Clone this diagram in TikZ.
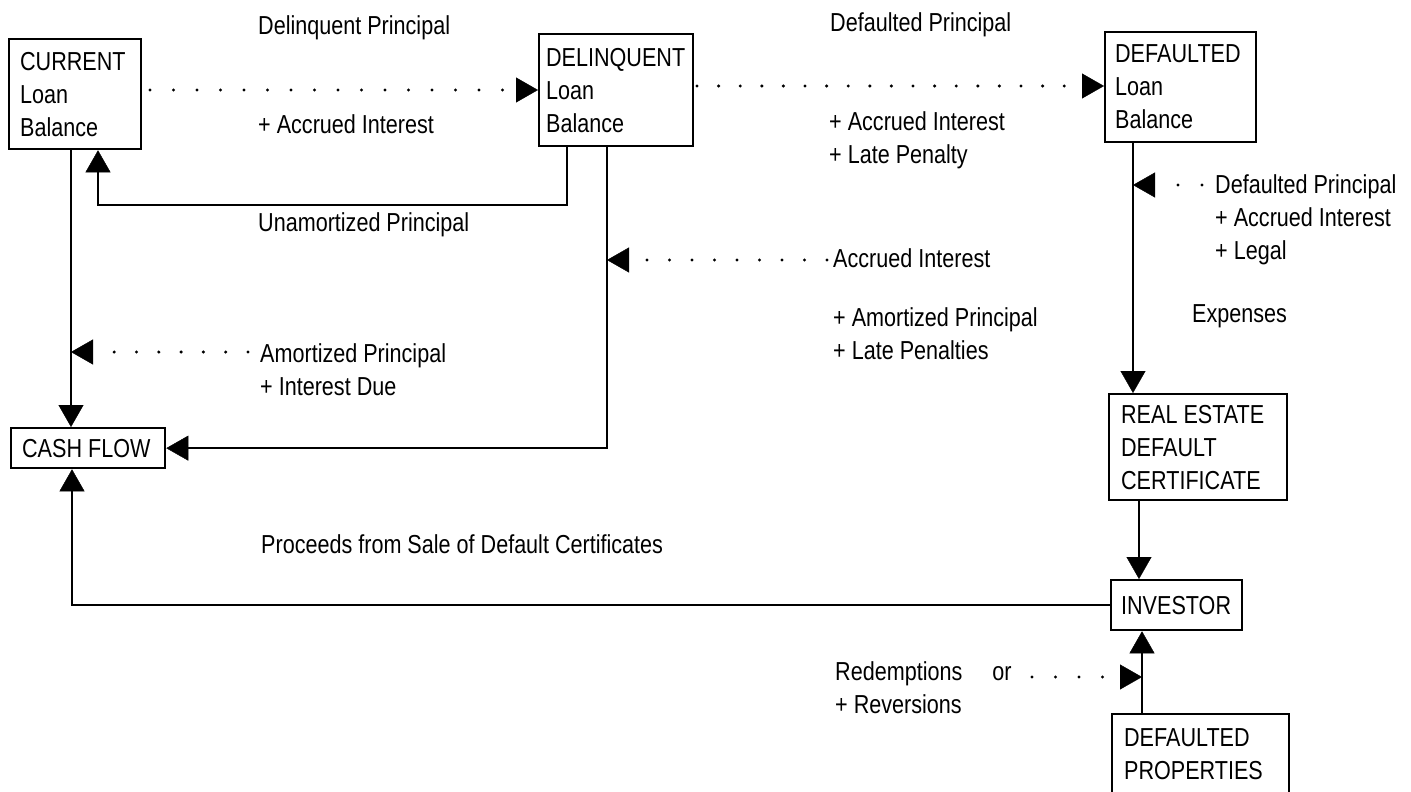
\documentclass[tikz,border=0pt]{standalone}
\usepackage{fontspec}
\setmainfont{Liberation Sans}[FakeStretch=0.83]
\usetikzlibrary{arrows.meta}
\newcommand\mylines[1]{\begin{tabular}[t]{@{}l@{}}#1\end{tabular}}
\begin{document}
\begin{tikzpicture}[x=1pt,y=-1pt,
  txt/.style={font=\fontsize{26}{33}\selectfont},
  box/.style={txt, draw, line width=2.3pt, rectangle, anchor=north west, align=flush left, inner ysep=0pt},
  lbl/.style={txt, anchor=base west, inner sep=0pt},
  conn/.style={line width=2.3pt},
  tipA/.style={-{Triangle[length=22pt,width=25pt,line width=0.4pt]}},
  dotline/.style={line width=3.4pt, line cap=round, dash pattern=on 0pt off #1}]
\useasboundingbox (0,0) rectangle (1411,792);
% boxes
\node[box, text width=110pt, inner xsep=11pt, minimum height=110pt] (cur) at (8,38) {CURRENT\\Loan\\Balance};
\node[box, text width=140pt, inner xsep=7pt, minimum height=112pt] (del) at (538,33) {DELINQUENT\\Loan\\Balance};
\node[box, text width=131pt, inner xsep=10pt, minimum height=110pt] (def) at (1104,31) {DEFAULTED\\Loan\\Balance};
\node[box, text width=154pt, inner xsep=12pt, minimum height=106pt] (re) at (1108,393) {REAL ESTATE\\DEFAULT\\CERTIFICATE};
\node[box, text width=111pt, inner xsep=10pt, minimum height=50pt] (inv) at (1110,579) {INVESTOR};
\node[box, text width=153pt, inner xsep=12pt, minimum height=80pt] (dp) at (1111,713) {DEFAULTED\\PROPERTIES};
\node[box, text width=132pt, inner xsep=11pt, minimum height=40pt] (cf) at (10,427) {CASH FLOW};
% labels
\node[lbl] (l1) at (258,35) {Delinquent Principal};
\node[lbl] (l2) at (258,133) {+ Accrued Interest};
\node[lbl] (l3) at (258,231) {Unamortized Principal};
\node[lbl] (l4) at (830,32) {Defaulted Principal};
\node[lbl] (l5) at (829,130) {\mylines{+ Accrued Interest\\+ Late Penalty}};
\node[lbl] (l6) at (833,267) {Accrued Interest};
\node[lbl] (l7) at (833,326) {\mylines{+ Amortized Principal\\+ Late Penalties}};
\node[lbl] (l8) at (260,362) {\mylines{Amortized Principal\\+ Interest Due}};
\node[lbl] (l9) at (1215,193) {\mylines{Defaulted Principal\\+ Accrued Interest\\+ Legal}};
\node[lbl] (l10) at (1192,322) {Expenses};
\node[lbl] (l11) at (261,553) {Proceeds from Sale of Default Certificates};
\node[lbl] (l12) at (835,680) {\mylines{Redemptions\hspace{30pt}or\\+ Reversions}};
% connector anchor points
\coordinate (cl) at ([xshift=63pt]cur.south west);
\coordinate (cb) at ([xshift=90pt]cur.south west);
\coordinate (ul) at ([xshift=29pt]del.south west);
\coordinate (dl) at ([xshift=69pt]del.south west);
\coordinate (dfl) at ([xshift=29pt]def.south west);
\coordinate (rl) at ([xshift=31pt]re.south west);
\coordinate (pl) at ([xshift=31pt]dp.north west);
\coordinate (cfl) at ([xshift=62pt]cf.south west);
% solid connectors
\draw[conn, tipA] (cl) -- (cl |- cf.north);
\draw[conn, tipA] (ul) -- ++(0,58) -| (cb);
\draw[conn, tipA] (dl) |- (cf.east);
\draw[conn, tipA] (dfl) -- (dfl |- re.north);
\draw[conn, tipA] (rl) -- (rl |- inv.north);
\draw[conn, tipA] (pl) -- (pl |- inv.south);
\draw[conn, tipA] (inv.west) -| (cfl);
% dotted connectors
\coordinate (s1) at (150,90);
\coordinate (s2) at (697,86);
\coordinate (s3) at (1202,185);
\coordinate (s4) at (827,260);
\coordinate (s5) at (248,352);
\coordinate (s6) at (1032,677);
\draw[dotline=23.5pt, tipA] (s1) -- (s1 -| del.west);
\draw[dotline=21.6pt, tipA] (s2) -- (s2 -| def.west);
\draw[dotline=24pt, tipA] (s3) -- (s3 -| dfl);
\draw[dotline=22.5pt, tipA] (s4) -- (s4 -| dl);
\draw[dotline=22.3pt, tipA] (s5) -- (s5 -| cl);
\draw[dotline=23.5pt, tipA] (s6) -- (s6 -| pl);
\end{tikzpicture}
\end{document}
